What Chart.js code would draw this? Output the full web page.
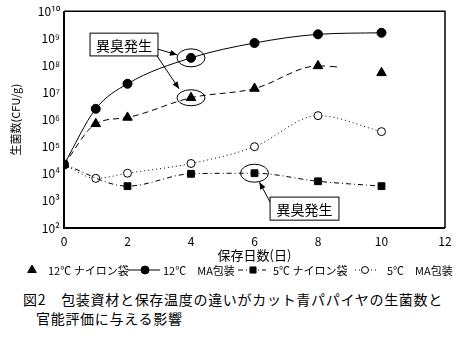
<!DOCTYPE html>
<html><head><meta charset="utf-8">
<script src="https://cdn.jsdelivr.net/npm/chart.js@4"></script>
<style>
html,body{margin:0;padding:0;background:#fff;}
#wrap{position:relative;width:461px;height:339px;overflow:hidden;}
canvas{position:absolute;left:0;top:0;}
.cap{position:absolute;font-family:'Noto Sans CJK JP',sans-serif;font-size:14px;line-height:18px;color:#000;white-space:nowrap;letter-spacing:0.7px;}
</style></head><body>
<div id="wrap">
<canvas id="c" width="461" height="285"></canvas>
<div class="cap" style="left:23px;top:290px;">図2<span style="margin-left:15px">包装資材と保存温度の違いがカット青パパイヤの生菌数と</span></div>
<div class="cap" style="left:36px;top:309px;">官能評価に与える影響</div>
</div>
<script>
// ---- data ----
const days = [0, 1, 2, 4, 6, 8, 10];
const days5N = [0, 2, 4, 6, 8, 10];
const nylon12 = [2.2e4, 7e5, 1.2e6, 6.4e6, 1.4e7, 9.6e7, 5.3e7];
const ma12 = [2.2e4, 2.5e6, 2.1e7, 1.9e8, 6.7e8, 1.4e9, 1.6e9];
const nylon5 = [2.2e4, 3.5e3, 1.0e4, 1.05e4, 5.3e3, 3.5e3];
const ma5 = [2.2e4, 6.8e3, 1.05e4, 2.4e4, 1.0e5, 1.4e6, 3.6e5];
const seriesLabels = ['12℃ ナイロン袋', '12℃　MA包装', '5℃ ナイロン袋', '5℃　MA包装'];
const xTicks = [0, 2, 4, 6, 8, 10, 12];
const yTicks = [1e2, 1e3, 1e4, 1e5, 1e6, 1e7, 1e8, 1e9, 1e10];
const xTitle = '保存日数(日)';
const yTitle = '生菌数(CFU/g)';
const noteText = '異臭発生';

const FONT = "'Noto Sans CJK JP', sans-serif";
const sup = n => String(n).split('').map(d => '⁰¹²³⁴⁵⁶⁷⁸⁹'[+d]).join('');
const pts = (xs, ys) => xs.map((x, i) => ({x: x, y: ys[i]}));

const dsN12 = {label: seriesLabels[0], data: pts(days, nylon12), borderColor: '#000', borderWidth: 1,
  borderDash: [6, 4], pointStyle: 'triangle', pointRadius: 5.5, pointBackgroundColor: '#000', pointBorderColor: '#000',
  segment: {borderDash: ctx => ctx.p1DataIndex === 6 ? [7, 5, 7, 300] : undefined}};
const dsM12 = {label: seriesLabels[1], data: pts(days, ma12), borderColor: '#000', borderWidth: 1,
  pointStyle: 'circle', pointRadius: 4.5, pointBackgroundColor: '#000', pointBorderColor: '#000'};
const dsN5 = {label: seriesLabels[2], data: pts(days5N, nylon5), borderColor: '#000', borderWidth: 1,
  borderDash: [5, 3, 1, 3], pointStyle: 'rect', pointRadius: 4.8, pointBackgroundColor: '#000', pointBorderColor: '#000'};
const dsM5 = {label: seriesLabels[3], data: pts(days, ma5), borderColor: '#000', borderWidth: 1,
  borderDash: [1, 3], pointStyle: 'circle', pointRadius: 4, pointBackgroundColor: '#fff', pointBorderColor: '#000', pointBorderWidth: 1};

function arrow(ctx, x0, y0, x1, y1) {
  ctx.beginPath(); ctx.moveTo(x0, y0); ctx.lineTo(x1, y1); ctx.stroke();
  const a = Math.atan2(y1 - y0, x1 - x0), L = 7, W = 3;
  ctx.beginPath();
  ctx.moveTo(x1, y1);
  ctx.lineTo(x1 - L * Math.cos(a) + W * Math.sin(a), y1 - L * Math.sin(a) - W * Math.cos(a));
  ctx.lineTo(x1 - L * Math.cos(a) - W * Math.sin(a), y1 - L * Math.sin(a) + W * Math.cos(a));
  ctx.closePath(); ctx.fill();
}

const decor = {
  id: 'decor',
  afterDraw(chart) {
    const {ctx, chartArea: ca, scales: {x, y}} = chart;
    ctx.save();
    ctx.strokeStyle = '#000'; ctx.fillStyle = '#000';
    // frame
    ctx.lineWidth = 1.5;
    ctx.beginPath(); ctx.moveTo(ca.left, ca.top); ctx.lineTo(ca.right, ca.top); ctx.lineTo(ca.right, ca.bottom); ctx.stroke();
    ctx.lineWidth = 2;
    ctx.beginPath(); ctx.moveTo(ca.left, ca.top); ctx.lineTo(ca.left, ca.bottom); ctx.lineTo(ca.right, ca.bottom); ctx.stroke();

    // ellipses around points
    ctx.lineWidth = 1;
    const ell = [[days[3], ma12[3], 14, 9], [days[3], nylon12[3], 14, 8], [days5N[3], nylon5[3], 14, 9]];
    const ec = ell.map(e => {
      const cx = x.getPixelForValue(e[0]), cy = y.getPixelForValue(e[1]);
      ctx.beginPath(); ctx.ellipse(cx, cy, e[2], e[3], 0, 0, Math.PI * 2); ctx.stroke();
      return [cx, cy];
    });

    // note boxes
    const boxes = [[0.82, 2.96, 9.19, 8.35], [6.49, 8.66, 3.14, 2.29]];
    const bp = boxes.map(b => {
      const l = x.getPixelForValue(b[0]), r = x.getPixelForValue(b[1]);
      const t = y.getPixelForValue(Math.pow(10, b[2])), bt = y.getPixelForValue(Math.pow(10, b[3]));
      ctx.fillStyle = '#fff'; ctx.fillRect(l, t, r - l, bt - t);
      ctx.strokeRect(l, t, r - l, bt - t);
      ctx.fillStyle = '#000';
      ctx.font = '14px ' + FONT; ctx.textAlign = 'center'; ctx.textBaseline = 'middle';
      ctx.fillText(noteText, (l + r) / 2, (t + bt) / 2 + 1);
      return {l, r, t, b: bt};
    });

    // arrows
    arrow(ctx, bp[0].r, bp[0].t + 16, ec[0][0] - 14, ec[0][1] - 3);
    arrow(ctx, bp[0].r - 1, bp[0].b, ec[1][0] - 12, ec[1][1] - 9);
    arrow(ctx, bp[1].l, bp[1].t + 5, ec[2][0] + 5, ec[2][1] + 9);

    // legend
    const ly = 270;
    ctx.font = '11px ' + FONT; ctx.textAlign = 'left'; ctx.textBaseline = 'middle';
    const items = [
      {ds: dsN12, line: null, mark: 32, text: 48},
      {ds: dsM12, line: [128, 160], mark: 145, text: 163},
      {ds: dsN5, line: [238, 266], mark: 253, text: 273},
      {ds: dsM5, line: [355, 378], mark: 365, text: 387}
    ];
    items.forEach(it => {
      ctx.lineWidth = 1;
      if (it.line) {
        ctx.setLineDash(it.ds.borderDash || []);
        ctx.beginPath(); ctx.moveTo(it.line[0], ly); ctx.lineTo(it.line[1], ly); ctx.stroke();
        ctx.setLineDash([]);
      }
      ctx.fillStyle = it.ds.pointBackgroundColor; ctx.strokeStyle = it.ds.pointBorderColor;
      Chart.helpers.drawPoint(ctx, {pointStyle: it.ds.pointStyle, radius: it.ds.pointRadius - 0.5, rotation: 0, borderWidth: 1}, it.mark, ly);
      ctx.fillStyle = '#000'; ctx.strokeStyle = '#000';
      ctx.fillText(it.ds.label, it.text, ly + 1);
    });
    ctx.restore();
  }
};

new Chart(document.getElementById('c'), {
  type: 'line',
  data: {datasets: [dsN12, dsM12, dsN5, dsM5]},
  options: {
    responsive: false, animation: false, devicePixelRatio: 1,
    layout: {padding: {left: 9, right: 16, top: 10, bottom: 22}},
    elements: {line: {cubicInterpolationMode: 'monotone', fill: false}},
    plugins: {legend: {display: false}, tooltip: {enabled: false}},
    scales: {
      x: {
        type: 'linear', min: 0, max: 12,
        afterBuildTicks: s => { s.ticks = xTicks.map(v => ({value: v})); },
        afterFit: s => { s.height = 35; },
        grid: {display: false, drawTicks: false},
        border: {display: false},
        ticks: {color: '#000', font: {family: FONT, size: 12}, padding: 6, maxRotation: 0},
        title: {display: true, text: xTitle, color: '#000', font: {family: FONT, size: 13}, padding: 0}
      },
      y: {
        type: 'logarithmic', min: 1e2, max: 1e10,
        afterBuildTicks: s => { s.ticks = yTicks.map(v => ({value: v})); },
        afterFit: s => { s.width = 55; },
        grid: {display: false, drawTicks: false},
        border: {display: false},
        ticks: {color: '#000', font: {family: FONT, size: 12}, padding: 4,
          callback: v => '10' + sup(Math.round(Math.log10(v)))},
        title: {display: true, text: yTitle, color: '#000', font: {family: FONT, size: 11}, padding: 0}
      }
    }
  },
  plugins: [decor]
});
</script>
</body></html>
